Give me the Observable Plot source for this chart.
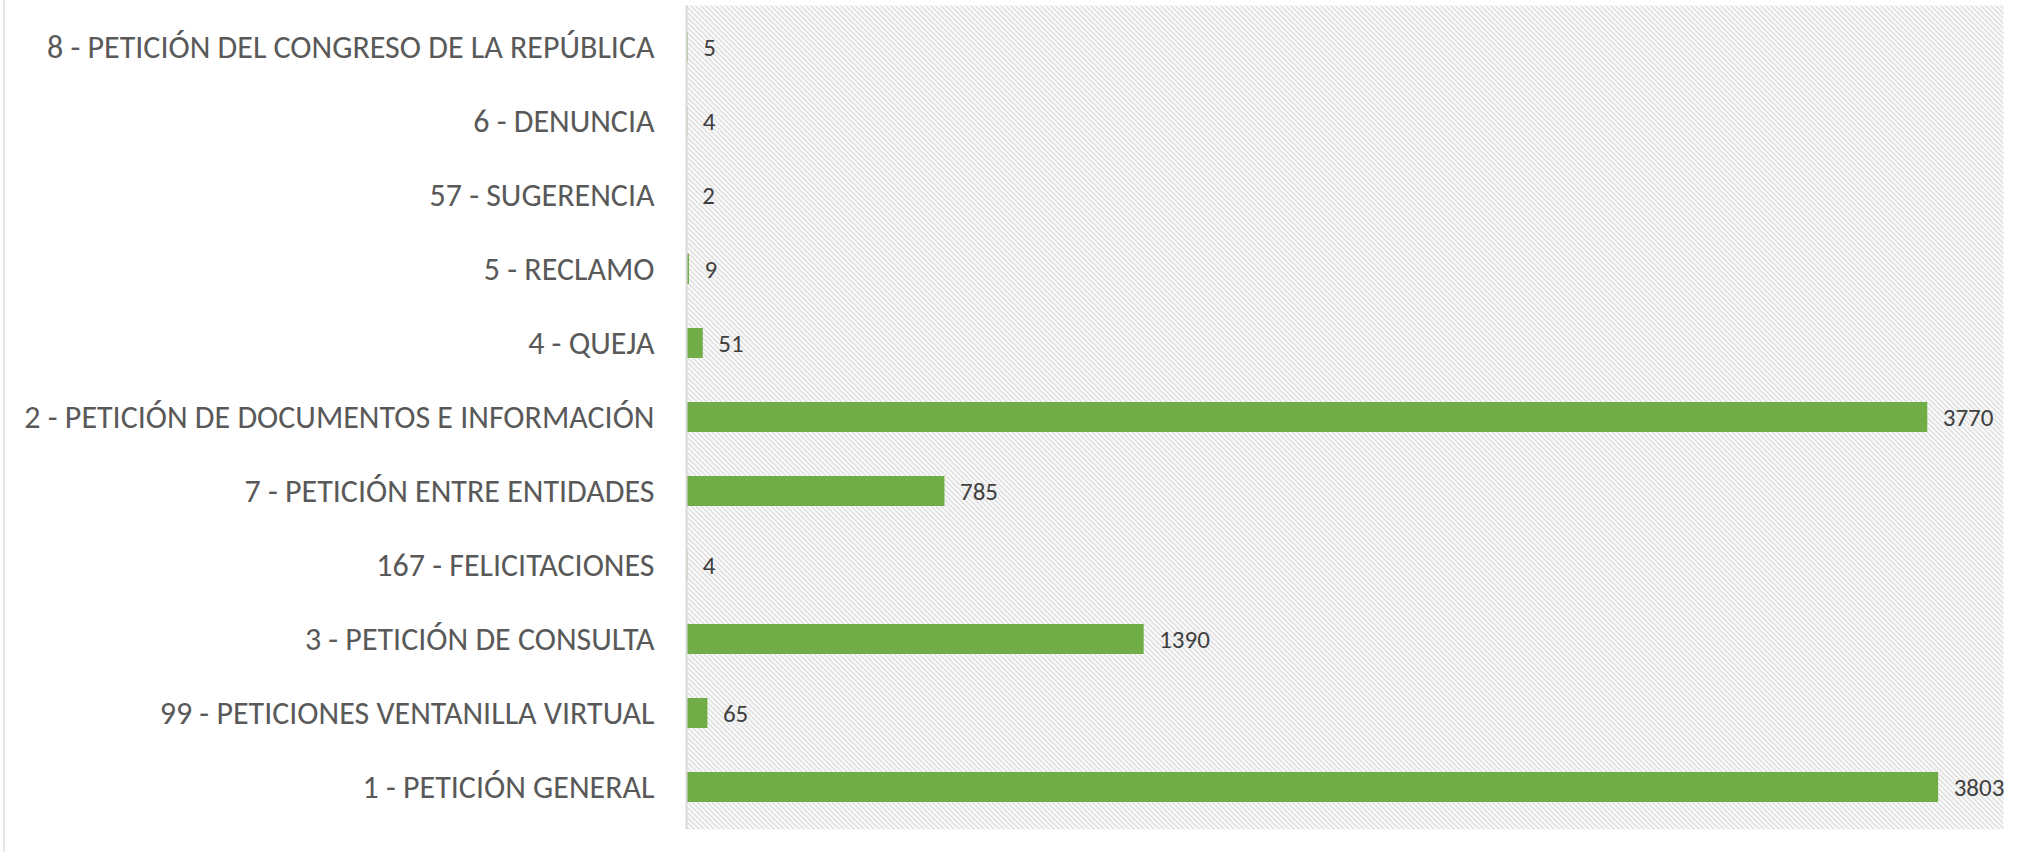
<!DOCTYPE html>
<html>
<head>
<meta charset="utf-8">
<script src="https://cdn.jsdelivr.net/npm/d3@7"></script>
<script src="https://cdn.jsdelivr.net/npm/@observablehq/plot@0.6"></script>
<style>
  html, body { margin: 0; padding: 0; background: #ffffff; }
  #wrap { position: relative; width: 2029px; height: 852px; overflow: hidden; }
  #border { position: absolute; left: 3px; top: 0; width: 2px; height: 852px; background: #e6e6e6; }
</style>
</head>
<body>
<div id="wrap"><div id="border"></div></div>
<script>
const categories = [
  "8 - PETICIÓN DEL CONGRESO DE LA REPÚBLICA",
  "6 - DENUNCIA",
  "57 - SUGERENCIA",
  "5 - RECLAMO",
  "4 - QUEJA",
  "2 - PETICIÓN DE DOCUMENTOS E INFORMACIÓN",
  "7 - PETICIÓN ENTRE ENTIDADES",
  "167 - FELICITACIONES",
  "3 - PETICIÓN DE CONSULTA",
  "99 - PETICIONES VENTANILLA VIRTUAL",
  "1 - PETICIÓN GENERAL"
];
const values = [5, 4, 2, 9, 51, 3770, 785, 4, 1390, 65, 3803];
const xDomain = [0, 4000];

const data = categories.map((c, i) => ({category: c, value: values[i]}));
const font = "Carlito, Calibri, Lato, 'Open Sans', sans-serif";

const chart = Plot.plot({
  width: 2029,
  height: 852,
  marginLeft: 686,
  marginRight: 26,
  marginTop: 5,
  marginBottom: 23,
  style: {fontFamily: font, background: "transparent", overflow: "visible"},
  x: {domain: xDomain, axis: null},
  y: {domain: categories, paddingInner: 0.6, paddingOuter: 0.3, axis: null},
  marks: [
    Plot.frame({fill: "url(#hatch)", stroke: null}),
    Plot.barX(data, {x: "value", y: "category", fill: "#70ad47"}),
    Plot.ruleX([0], {stroke: "#d9d9d9", strokeWidth: 2}),
    Plot.axisY({tickSize: 0, tickPadding: 32, fontSize: 32, fontWeight: 300, color: "#595959", label: null}),
    Plot.text(data, {x: "value", y: "category", text: d => String(d.value), textAnchor: "start", dx: 15, fill: "#404040", fontSize: 25})
  ]
});

const ns = "http://www.w3.org/2000/svg";
const defs = document.createElementNS(ns, "defs");
const pattern = document.createElementNS(ns, "pattern");
pattern.setAttribute("id", "hatch");
pattern.setAttribute("patternUnits", "userSpaceOnUse");
pattern.setAttribute("width", "5");
pattern.setAttribute("height", "5");
const bg = document.createElementNS(ns, "rect");
bg.setAttribute("width", "5"); bg.setAttribute("height", "5"); bg.setAttribute("fill", "#ffffff");
const path = document.createElementNS(ns, "path");
path.setAttribute("d", "M0,0L5,5M-1,4L1,6M4,-1L6,1");
path.setAttribute("stroke", "#cccccc");
path.setAttribute("stroke-width", "1.1");
pattern.appendChild(bg);
pattern.appendChild(path);
defs.appendChild(pattern);
chart.insertBefore(defs, chart.firstChild);

chart.style.position = "absolute";
chart.style.left = "0";
chart.style.top = "0";
document.getElementById("wrap").appendChild(chart);
</script>
</body>
</html>
